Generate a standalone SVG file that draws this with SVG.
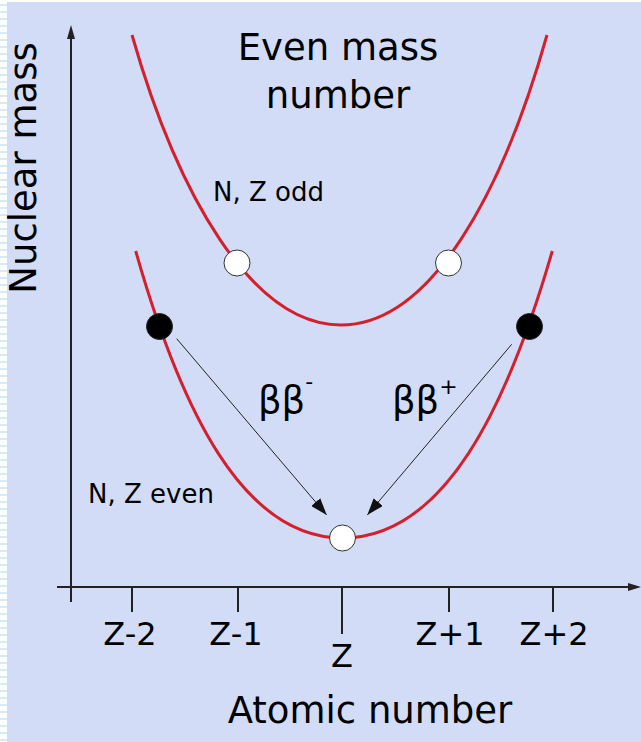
<svg xmlns="http://www.w3.org/2000/svg" width="641" height="742" viewBox="0 0 641 742">
<style>
.t{font-family:"DejaVu Sans","Liberation Sans",sans-serif;fill:#000}
.axis{stroke:#222;stroke-width:2;fill:none}
.curve{stroke:#d41f2c;stroke-width:3;fill:none}
.arr{stroke:#222;stroke-width:1;fill:none}
.open{fill:#fff;stroke:#333;stroke-width:1}
.full{fill:#000;stroke:#222;stroke-width:1}
</style>
<defs>
<pattern id="stripes" width="7" height="7" patternUnits="userSpaceOnUse">
<rect width="7" height="7" fill="#ffffff"/>
<rect y="4" width="7" height="2" fill="#d6ebf7"/>
</pattern>
<marker id="ah" markerWidth="18" markerHeight="12" refX="17" refY="6" orient="auto" markerUnits="userSpaceOnUse">
<path d="M0,0 L17,6 L0,12 z" fill="#111"/>
</marker>
</defs>
<rect x="0" y="0" width="641" height="742" fill="url(#stripes)"/>
<rect x="7" y="2" width="634" height="740" fill="#d3dcf7"/>
<g id="axes">
<line class="axis" x1="71" y1="602" x2="71" y2="36"/>
<path d="M71,25 L75,39 L67,39 z" fill="#222"/>
<line class="axis" x1="57" y1="587" x2="630" y2="587"/>
<path d="M641,587 L628,591 L628,583 z" fill="#222"/>
<line class="axis" x1="132" y1="587" x2="132" y2="612"/>
<line class="axis" x1="238" y1="587" x2="238" y2="612"/>
<line class="axis" x1="342" y1="587" x2="342" y2="634"/>
<line class="axis" x1="449" y1="587" x2="449" y2="612"/>
<line class="axis" x1="553" y1="587" x2="553" y2="612"/>
<text class="t" x="130" y="645" font-size="32" text-anchor="middle">Z-2</text>
<text class="t" x="236" y="645" font-size="32" text-anchor="middle">Z-1</text>
<text class="t" x="342" y="667" font-size="32" text-anchor="middle">Z</text>
<text class="t" x="450" y="645" font-size="32" text-anchor="middle">Z+1</text>
<text class="t" x="554" y="645" font-size="32" text-anchor="middle">Z+2</text>
<text class="t" x="370" y="723" font-size="37" text-anchor="middle">Atomic number</text>
<text class="t" x="0" y="0" font-size="37" text-anchor="middle" transform="translate(36,168) rotate(-90)">Nuclear mass</text>
</g>
<g id="title">
<text class="t" x="338" y="60" font-size="37" text-anchor="middle">Even mass</text>
<text class="t" x="338" y="108" font-size="37" text-anchor="middle">number</text>
</g>
<g id="odd-curve">
<path class="curve" d="M132,35 C177,192.5 251,325 341,325 C431,325 502.6,192.5 547,35"/>
<text class="t" x="213" y="201" font-size="26">N, Z odd</text>
</g>
<g id="even-curve">
<path class="curve" d="M135.7,251 C180.5,408.5 242.5,538 342.5,538 C443.9,538 506.7,408.5 552.3,251"/>
<text class="t" x="88" y="503" font-size="26">N, Z even</text>
</g>
<g id="connectors">
<line class="arr" x1="176.7" y1="338.7" x2="326.7" y2="515" marker-end="url(#ah)"/>
<line class="arr" x1="511.7" y1="344.3" x2="367.3" y2="515" marker-end="url(#ah)"/>
</g>
<g id="labels">
<text class="t" x="258" y="413" font-size="37">ββ<tspan font-size="22" dy="-24">-</tspan></text>
<text class="t" x="392" y="413" font-size="37">ββ<tspan font-size="22" dy="-19">+</tspan></text>
</g>
<g id="node-odd-left"><circle class="open" cx="237" cy="263" r="13"/></g>
<g id="node-odd-right"><circle class="open" cx="448.5" cy="263" r="13"/></g>
<g id="node-even-left"><circle class="full" cx="159.5" cy="326.5" r="13"/></g>
<g id="node-even-right"><circle class="full" cx="529.5" cy="326.5" r="13"/></g>
<g id="node-even-center"><circle class="open" cx="342.5" cy="538" r="13"/></g>
</svg>
